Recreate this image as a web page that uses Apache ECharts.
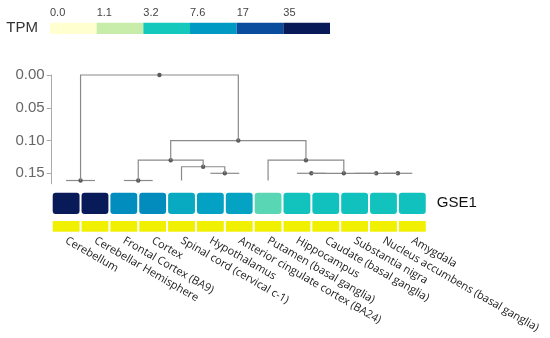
<!DOCTYPE html>
<html>
<head>
<meta charset="utf-8">
<script src="https://cdn.jsdelivr.net/npm/echarts@6/dist/echarts.min.js"></script>
<style>
html,body{margin:0;padding:0;background:#fff;}
#chart{width:550px;height:338px;}
</style>
</head>
<body>
<div id="chart"></div>
<script>
// ---- data ----
const tissues = ['Cerebellum','Cerebellar Hemisphere','Frontal Cortex (BA9)','Cortex','Spinal cord (cervical c-1)','Hypothalamus','Anterior cingulate cortex (BA24)','Putamen (basal ganglia)','Hippocampus','Caudate (basal ganglia)','Substantia nigra','Nucleus accumbens (basal ganglia)','Amygdala'];
const gene = 'GSE1';
const tpm = [40, 38, 9.0, 9.3, 6.0, 6.9, 6.8, 2.4, 3.8, 3.9, 3.9, 3.8, 3.9];
const legendStops = [0, 1.1, 3.2, 7.6, 17, 35];
const legendLabels = ['0.0','1.1','3.2','7.6','17','35'];
const legendColors = ['#ffffd0','#c8edaa','#14c9bc','#0099c4','#0a4c9e','#081a58'];
const groupColor = '#f0f000';
// dendrogram: leaf bottom heights and linkage merges [childA, childB, height]
const leafHeights = [0.161,0.161,0.161,0.161,0.161,0.15,0.15,0.161,0.15,0.15,0.15,0.15,0.15];
const merges = [
  [0,1,0.161],
  [2,3,0.161],
  [5,6,0.15],
  [4,15,0.14],
  [14,16,0.13],
  [11,12,0.15],
  [10,18,0.15],
  [8,9,0.15],
  [20,19,0.15],
  [7,21,0.13],
  [17,22,0.10],
  [13,23,0.00]
];
const yMax = 0.166;

// ---- prep ----
function toIndex(v){
  for (let i = 0; i < legendStops.length - 1; i++) {
    if (v <= legendStops[i+1]) return i + (v - legendStops[i]) / (legendStops[i+1] - legendStops[i]);
  }
  return legendStops.length - 1;
}
const heatData = tpm.map((v,i)=>[i,0,toIndex(v),v]);
const groupData = tissues.map((t,i)=>[i,0]);
const legendData = legendColors.map((c,i)=>[i,0]);

const nodeX = [], nodeH = [];
tissues.forEach((t,i)=>{ nodeX[i] = i + 0.5; nodeH[i] = leafHeights[i]; });
const dendroData = merges.map((m,k)=>{
  const id = tissues.length + k;
  const xa = nodeX[m[0]], xb = nodeX[m[1]];
  nodeX[id] = (xa + xb) / 2; nodeH[id] = m[2];
  return [xa, nodeH[m[0]], xb, nodeH[m[1]], m[2]];
});

const L = 51.7, W = 13 * 28.85;
const chart = echarts.init(document.getElementById('chart'), null, {renderer:'canvas'});
chart.setOption({
  backgroundColor:'#fff',
  animation:false,
  grid:[
    {left:50, top:22.7, width:280, height:11.3, outerBoundsMode:'none'},
    {left:L, top:75, width:W, height:yMax*655.3, outerBoundsMode:'none'},
    {left:L, top:192.7, width:W, height:21.3, outerBoundsMode:'none'},
    {left:L, top:221, width:W, height:10.7, outerBoundsMode:'none'}
  ],
  xAxis:[
    {gridIndex:0, type:'value', position:'top', min:0, max:6, interval:1,
     axisLine:{show:false}, axisTick:{show:false}, splitLine:{show:false},
     axisLabel:{show:true, margin:4, align:'left', fontSize:11, color:'#444', fontFamily:'Liberation Sans',
       showMaxLabel:false, formatter:(v)=> legendLabels[Math.round(v)] || ''}},
    {gridIndex:1, type:'value', min:0, max:13, show:false},
    {gridIndex:2, type:'category', data:tissues, show:false},
    {gridIndex:3, type:'category', data:tissues,
     axisLine:{show:false}, axisTick:{show:false},
     axisLabel:{interval:0, rotate:-30, margin:8, fontSize:11, color:'#222', fontFamily:'Open Sans'}}
  ],
  yAxis:[
    {gridIndex:0, type:'category', data:['TPM'],
     axisLine:{show:false}, axisTick:{show:false},
     axisLabel:{margin:12, fontSize:15, color:'#333', fontFamily:'Liberation Sans'}},
    {gridIndex:1, type:'value', inverse:true, min:0, max:yMax, interval:0.05,
     axisLine:{show:true, lineStyle:{color:'#aaa', width:1}},
     axisTick:{show:true, length:5, lineStyle:{color:'#aaa'}},
     splitLine:{show:false},
     axisLabel:{margin:7, fontSize:15, color:'#666', fontFamily:'Liberation Sans', showMaxLabel:false,
       formatter:(v)=> v.toFixed(2)}},
    {gridIndex:2, type:'category', data:[gene], position:'right',
     axisLine:{show:false}, axisTick:{show:false},
     axisLabel:{margin:10, fontSize:15, color:'#111', fontFamily:'Liberation Sans'}},
    {gridIndex:3, type:'category', data:[''], show:false}
  ],
  visualMap:{
    show:false, type:'continuous', seriesIndex:2, dimension:2, min:0, max:5,
    inRange:{color:legendColors}
  },
  series:[
    {type:'custom', xAxisIndex:0, yAxisIndex:0, data:legendData, encode:{x:0,y:1},
     renderItem:(params, api)=>{
       const i = api.value(0);
       const c0 = api.coord([i,0]), c1 = api.coord([i+1,0]);
       const h = api.size([1,1])[1];
       return {type:'rect', shape:{x:c0[0], y:c0[1]-h/2, width:c1[0]-c0[0], height:h},
               style:{fill:legendColors[i]}};
     }},
    {type:'custom', xAxisIndex:1, yAxisIndex:1, data:dendroData, encode:{x:[0,2], y:[1,3,4]},
     renderItem:(params, api)=>{
       const xa = api.value(0), ha = api.value(1), xb = api.value(2), hb = api.value(3), h = api.value(4);
       const pA = api.coord([xa,ha]), pA2 = api.coord([xa,h]), pB2 = api.coord([xb,h]), pB = api.coord([xb,hb]);
       const m = api.coord([(xa+xb)/2, h]);
       return {type:'group', children:[
         {type:'polyline', shape:{points:[pA,pA2,pB2,pB]}, style:{stroke:'#8a8a8a', lineWidth:1.2, fill:null}},
         {type:'circle', shape:{cx:m[0], cy:m[1], r:2.2}, style:{fill:'#5a5a5a'}}
       ]};
     }},
    {type:'custom', xAxisIndex:2, yAxisIndex:2, data:heatData, encode:{x:0,y:1},
     renderItem:(params, api)=>{
       const c = api.coord([api.value(0), 0]);
       const s = api.size([1,1]);
       return {type:'rect', shape:{x:c[0]-s[0]/2+1, y:c[1]-s[1]/2, width:s[0]-2, height:s[1], r:3},
               style:{fill:api.visual('color')}};
     }},
    {type:'custom', xAxisIndex:3, yAxisIndex:3, data:groupData, encode:{x:0,y:1},
     renderItem:(params, api)=>{
       const c = api.coord([api.value(0), 0]);
       const s = api.size([1,1]);
       return {type:'rect', shape:{x:c[0]-s[0]/2+1, y:c[1]-s[1]/2, width:s[0]-2, height:s[1]},
               style:{fill:groupColor}};
     }}
  ]
});
</script>
</body>
</html>
